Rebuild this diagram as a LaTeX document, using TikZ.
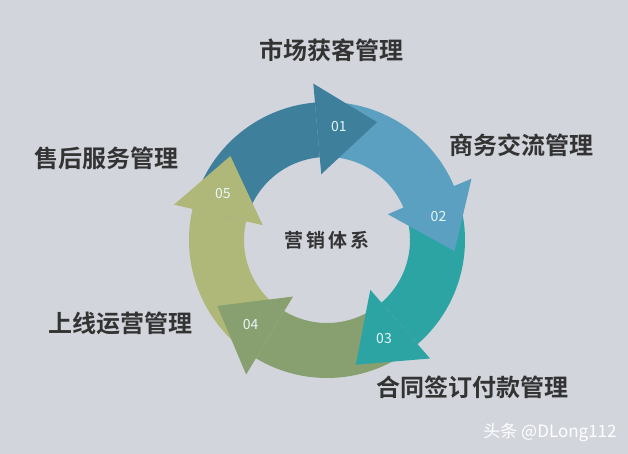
\documentclass[tikz,border=0pt]{standalone}
\usepackage{fontspec}
\setmainfont{Noto Sans CJK SC}
\newfontfamily\cjkbold{Noto Sans CJK SC Bold}
\definecolor{bgc}{HTML}{D3D5DD}
\definecolor{cA}{HTML}{3E7F9C}
\definecolor{cB}{HTML}{5BA0C1}
\definecolor{cC}{HTML}{2CA4A4}
\definecolor{cD}{HTML}{88A070}
\definecolor{cE}{HTML}{AFB878}
\tikzset{
  steplabel/.style={font=\cjkbold\fontsize{24}{24}\selectfont, text=black!80},
  numlabel/.style={font=\fontsize{14}{14}\selectfont, text=white!90!cyan}
}
\begin{document}
\begin{tikzpicture}[x=1pt, y=1pt]
  \fill[bgc] (0,0) rectangle (628,454);
  \useasboundingbox (0,0) rectangle (628,454);
  \begin{scope}[shift={(327,214)}]
    % ring bodies
    \foreach \b/\p/\c in {95/167/cA, 23/95/cB, -49/23/cC, -121/-49/cD, -193/-121/cE}
      \fill[\c] (\p:138) arc[start angle=\p, end angle=\b, radius=138]
        -- (\b:83) arc[start angle=\b, end angle=\p, radius=83] -- cycle;
    % arrow heads
    \foreach \b/\c/\n in {95/cA/01, 23/cB/02, -49/cC/03, -121/cD/04, -193/cE/05} {
      \fill[\c] (\b:66) -- (\b:157) -- (\b-28:128) -- cycle;
      \node[numlabel] (n\n) at (\b-11:114) {\n};
    }
    \node[font=\cjkbold\fontsize{19}{19}\selectfont, text=black!80] (sys) at (0,0) {营\,销\,体\,系};
  \end{scope}
  \node[steplabel] (s1) at (331,404) {市场获客管理};
  \node[steplabel] (s2) at (521,309) {商务交流管理};
  \node[steplabel] (s3) at (472,67) {合同签订付款管理};
  \node[steplabel] (s4) at (120,131) {上线运营管理};
  \node[steplabel] (s5) at (106,296) {售后服务管理};
  \node[font=\fontsize{17}{17}\selectfont, text=white] (wm) at (550,22) {头条 @DLong112};
\end{tikzpicture}
\end{document}
